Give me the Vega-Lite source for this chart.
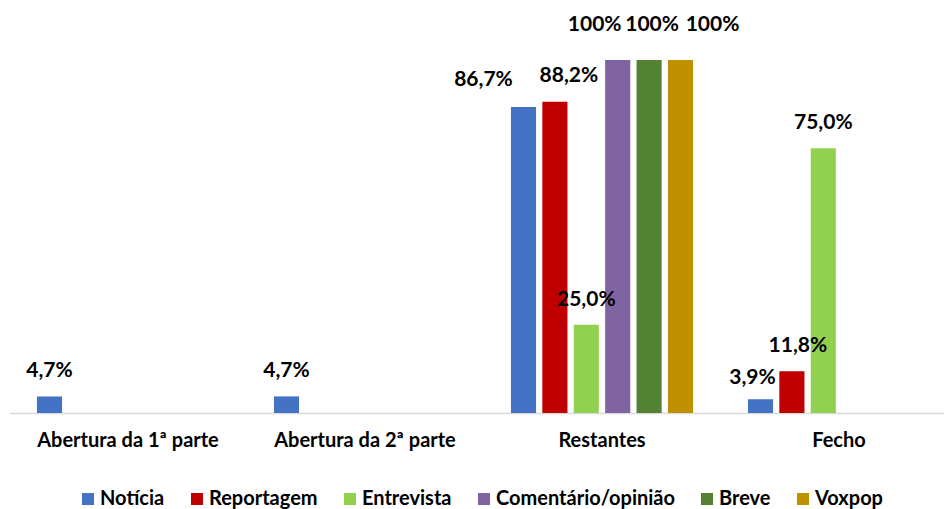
{
  "$schema": "https://vega.github.io/schema/vega-lite/v6.json",
  "width": 934,
  "height": 353,
  "autosize": {"type": "none"},
  "padding": {"left": 9.5, "top": 60, "right": 0.5, "bottom": 96},
  "background": "white",
  "config": {
    "view": {"stroke": null},
    "font": "Lato",
    "text": {"font": "Lato"}
  },
  "data": {
    "values": [
      {"categoria": "Abertura da 1ª parte", "tipo": "Notícia", "valor": 0.047, "rotulo": "4,7%"},
      {"categoria": "Abertura da 2ª parte", "tipo": "Notícia", "valor": 0.047, "rotulo": "4,7%"},
      {"categoria": "Restantes", "tipo": "Notícia", "valor": 0.867, "rotulo": "86,7%"},
      {"categoria": "Restantes", "tipo": "Reportagem", "valor": 0.882, "rotulo": "88,2%"},
      {"categoria": "Restantes", "tipo": "Entrevista", "valor": 0.25, "rotulo": "25,0%"},
      {"categoria": "Restantes", "tipo": "Comentário/opinião", "valor": 1.0, "rotulo": "100%"},
      {"categoria": "Restantes", "tipo": "Breve", "valor": 1.0, "rotulo": "100%"},
      {"categoria": "Restantes", "tipo": "Voxpop", "valor": 1.0, "rotulo": "100%"},
      {"categoria": "Fecho", "tipo": "Notícia", "valor": 0.039, "rotulo": "3,9%"},
      {"categoria": "Fecho", "tipo": "Reportagem", "valor": 0.118, "rotulo": "11,8%"},
      {"categoria": "Fecho", "tipo": "Entrevista", "valor": 0.75, "rotulo": "75,0%"}
    ]
  },
  "encoding": {
    "x": {
      "field": "categoria",
      "type": "nominal",
      "sort": ["Abertura da 1ª parte", "Abertura da 2ª parte", "Restantes", "Fecho"],
      "scale": {"range": [0, 948], "paddingInner": 0.205, "paddingOuter": 0.1025},
      "title": null,
      "axis": {
        "labelAngle": 0,
        "labelFont": "Lato",
        "labelFontSize": 20,
        "labelFontWeight": "bold",
        "labelColor": "#000000",
        "labelBaseline": "middle",
        "labelPadding": 27,
        "labelLimit": 0,
        "ticks": false,
        "domainColor": "#D9D9D9",
        "domainWidth": 1.5,
        "grid": false
      }
    },
    "xOffset": {
      "field": "tipo",
      "type": "nominal",
      "scale": {
        "domain": ["Notícia", "Reportagem", "Entrevista", "Comentário/opinião", "Breve", "Voxpop"],
        "paddingInner": 0.2,
        "paddingOuter": 0.1
      }
    },
    "y": {
      "field": "valor",
      "type": "quantitative",
      "scale": {"domain": [0, 1], "nice": false},
      "axis": null
    }
  },
  "layer": [
    {
      "mark": {"type": "bar"},
      "encoding": {
        "color": {
          "field": "tipo",
          "type": "nominal",
          "scale": {
            "domain": ["Notícia", "Reportagem", "Entrevista", "Comentário/opinião", "Breve", "Voxpop"],
            "range": ["#4472C4", "#C00000", "#92D050", "#8064A2", "#548235", "#BF9000"]
          },
          "legend": {
            "title": null,
            "orient": "none",
            "legendX": 68.5,
            "legendY": 429,
            "padding": 0,
            "direction": "horizontal",
            "symbolType": "square",
            "symbolSize": 144,
            "symbolStrokeWidth": 0,
            "labelFont": "Lato",
            "labelFontSize": 20,
            "labelFontWeight": "bold",
            "labelColor": "#000000",
            "labelOffset": 2,
            "labelLimit": 0,
            "columnPadding": 22
          }
        }
      }
    },
    {
      "transform": [{"filter": "!(datum.categoria === 'Restantes' && datum.tipo !== 'Entrevista') && !(datum.categoria === 'Fecho' && datum.tipo !== 'Entrevista')"}],
      "mark": {"type": "text", "baseline": "middle", "dy": -25, "fontSize": 21, "fontWeight": "bold", "color": "#000000", "font": "Lato"},
      "encoding": {"text": {"field": "rotulo"}}
    },
    {
      "transform": [{"filter": "datum.categoria === 'Restantes' && datum.tipo === 'Notícia'"}],
      "mark": {"type": "text", "baseline": "middle", "dx": -40, "dy": -27, "fontSize": 21, "fontWeight": "bold", "color": "#000000", "font": "Lato"},
      "encoding": {"text": {"field": "rotulo"}}
    },
    {
      "transform": [{"filter": "datum.categoria === 'Restantes' && datum.tipo === 'Reportagem'"}],
      "mark": {"type": "text", "baseline": "middle", "dx": 14, "dy": -26, "fontSize": 21, "fontWeight": "bold", "color": "#000000", "font": "Lato"},
      "encoding": {"text": {"field": "rotulo"}}
    },
    {
      "transform": [{"filter": "datum.categoria === 'Restantes' && datum.tipo === 'Comentário/opinião'"}],
      "mark": {"type": "text", "baseline": "middle", "dx": -23, "dy": -35, "fontSize": 21, "fontWeight": "bold", "color": "#000000", "font": "Lato"},
      "encoding": {"text": {"field": "rotulo"}}
    },
    {
      "transform": [{"filter": "datum.categoria === 'Restantes' && datum.tipo === 'Breve'"}],
      "mark": {"type": "text", "baseline": "middle", "dx": 3, "dy": -35, "fontSize": 21, "fontWeight": "bold", "color": "#000000", "font": "Lato"},
      "encoding": {"text": {"field": "rotulo"}}
    },
    {
      "transform": [{"filter": "datum.categoria === 'Restantes' && datum.tipo === 'Voxpop'"}],
      "mark": {"type": "text", "baseline": "middle", "dx": 32, "dy": -35, "fontSize": 21, "fontWeight": "bold", "color": "#000000", "font": "Lato"},
      "encoding": {"text": {"field": "rotulo"}}
    },
    {
      "transform": [{"filter": "datum.categoria === 'Fecho' && datum.tipo === 'Notícia'"}],
      "mark": {"type": "text", "baseline": "middle", "dx": -8, "dy": -21, "fontSize": 21, "fontWeight": "bold", "color": "#000000", "font": "Lato"},
      "encoding": {"text": {"field": "rotulo"}}
    },
    {
      "transform": [{"filter": "datum.categoria === 'Fecho' && datum.tipo === 'Reportagem'"}],
      "mark": {"type": "text", "baseline": "middle", "dx": 6, "dy": -25, "fontSize": 21, "fontWeight": "bold", "color": "#000000", "font": "Lato"},
      "encoding": {"text": {"field": "rotulo"}}
    }
  ]
}
